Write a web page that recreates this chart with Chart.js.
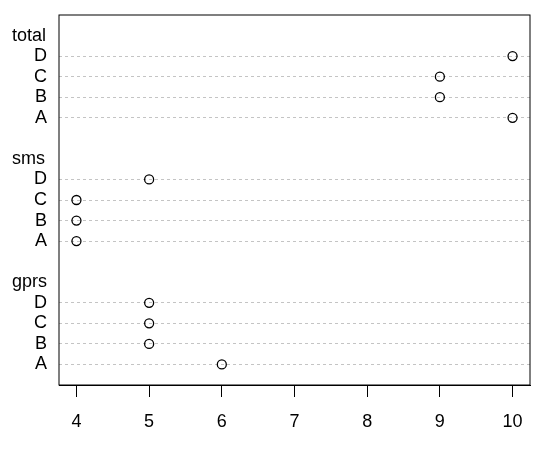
<!DOCTYPE html>
<html>
<head>
<meta charset="utf-8">
<script src="https://cdn.jsdelivr.net/npm/chart.js@4"></script>
<style>
  html, body { margin: 0; padding: 0; background: #fff; }
  #wrap { width: 554px; height: 449px; position: relative; }
</style>
</head>
<body>
<div id="wrap"><canvas id="myChart"></canvas></div>
<script>
// data (top to bottom)
const groups = ['total', 'sms', 'gprs'];
const categories = ['D', 'C', 'B', 'A'];
const totalValues = [10, 9, 9, 10];
const smsValues = [5, 4, 4, 4];
const gprsValues = [5, 5, 5, 6];
const xTicks = [4, 5, 6, 7, 8, 9, 10];

const groupValues = [totalValues, smsValues, gprsValues];

// each group takes a header row, 4 category rows and a blank row
let points = [];
let rowLabels = {};
let headerRows = {};
groups.forEach((g, gi) => {
    let start = gi * 6;
    headerRows[start] = g;
    categories.forEach((c, ci) => {
        let row = start + 1 + ci;
        rowLabels[row] = c;
        points.push({ x: groupValues[gi][ci], y: row });
    });
});
let dataRows = Object.keys(rowLabels).map(Number);

const font = { family: '"Liberation Sans", Arial, sans-serif', size: 18 };

const boxAndHeaders = {
    id: 'boxAndHeaders',
    afterDraw(chart) {
        const ctx = chart.ctx;
        const a = chart.chartArea;
        ctx.save();
        ctx.strokeStyle = '#000';
        ctx.lineWidth = 1;
        ctx.strokeRect(a.left, a.top, a.right - a.left, a.bottom - a.top);
        ctx.fillStyle = '#000';
        ctx.font = font.size + 'px ' + font.family;
        ctx.textAlign = 'left';
        ctx.textBaseline = 'middle';
        const y = chart.scales.y;
        Object.keys(headerRows).forEach((r) => {
            ctx.fillText(headerRows[r], 12, y.getPixelForValue(Number(r)));
        });
        ctx.restore();
    }
};

let config = {
    type: 'scatter',
    data: {
        datasets: [{
            data: points,
            pointStyle: 'circle',
            pointRadius: 4.5,
            pointHoverRadius: 4.5,
            borderColor: '#000',
            borderWidth: 1.3,
            backgroundColor: 'rgba(0,0,0,0)'
        }]
    },
    options: {
        responsive: true,
        maintainAspectRatio: false,
        animation: false,
        layout: { padding: { left: 0, top: 15, right: 24, bottom: 0 } },
        plugins: {
            legend: { display: false },
            tooltip: { enabled: false }
        },
        scales: {
            x: {
                type: 'linear',
                min: 3.76,
                max: 10.24,
                afterBuildTicks: (scale) => {
                    scale.ticks = xTicks.map((v) => ({ value: v }));
                },
                afterFit: (scale) => {
                    scale.height = 64;
                    scale.paddingLeft = 0;
                    scale.paddingRight = 0;
                },
                border: { display: true, color: '#000', width: 1 },
                grid: {
                    drawOnChartArea: false,
                    drawTicks: true,
                    tickLength: 12,
                    color: '#000',
                    lineWidth: 1
                },
                ticks: {
                    color: '#000',
                    font: font,
                    padding: 14,
                    maxRotation: 0,
                    autoSkip: false
                }
            },
            y: {
                type: 'linear',
                min: -1,
                max: 17,
                reverse: true,
                afterBuildTicks: (scale) => {
                    scale.ticks = dataRows.map((v) => ({ value: v }));
                },
                afterFit: (scale) => {
                    scale.width = 59;
                    scale.paddingTop = 0;
                    scale.paddingBottom = 0;
                },
                border: { display: false, dash: [3, 3] },
                grid: {
                    drawTicks: false,
                    color: '#c4c4c4',
                    lineWidth: 1
                },
                ticks: {
                    color: '#000',
                    font: font,
                    padding: 12,
                    autoSkip: false,
                    callback: (value) => rowLabels[value] || ''
                }
            }
        }
    },
    plugins: [boxAndHeaders]
};

let ctx = document.getElementById('myChart').getContext('2d');
var myChart = new Chart(ctx, config);
</script>
</body>
</html>
